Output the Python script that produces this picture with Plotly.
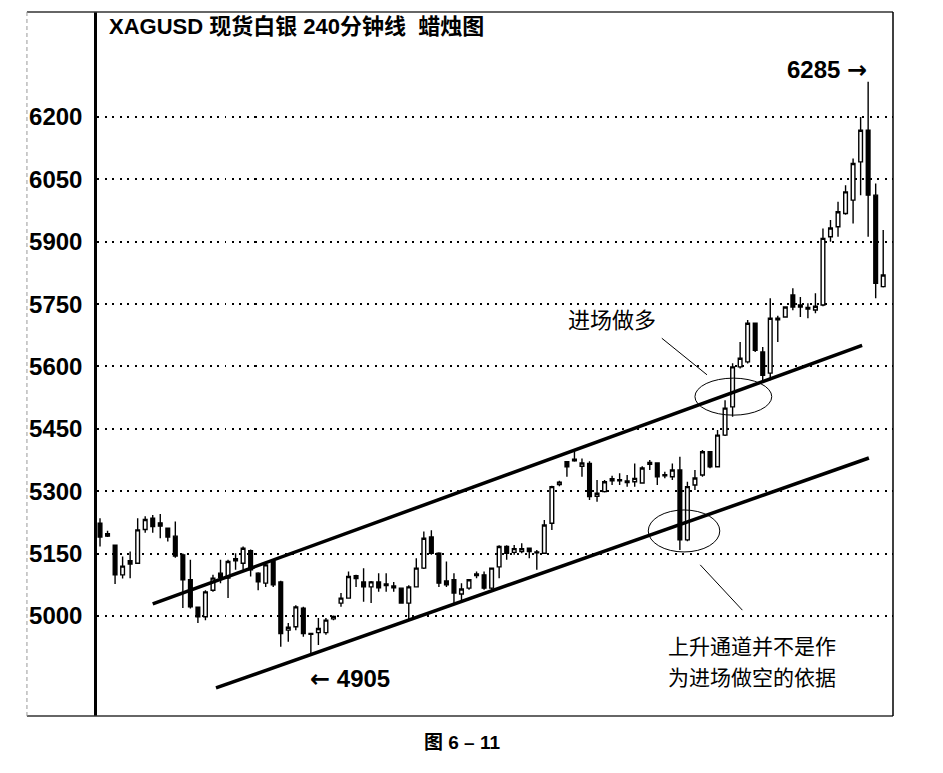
import plotly.graph_objects as go

# 240 min candles, XAGUSD
opens = [5223, 5198, 5170, 5099, 5133, 5127, 5208, 5235, 5224, 5211,
         5192, 5147, 5087, 5021, 4998, 5062, 5103, 5091, 5133, 5127,
         5157, 5103, 5079, 5131, 5082, 4966, 4974, 5019, 4958, 4960,
         4960, 4993, 5031, 5043, 5097, 5082, 5070, 5082, 5077, 5072,
         5067, 5031, 5070, 5115, 5190, 5151, 5084, 5087, 5053, 5067,
         5097, 5099, 5067, 5118, 5167, 5153, 5155, 5163, 5154, 5151,
         5223, 5316, 5371, 5373, 5360, 5367, 5288, 5299, 5325, 5325,
         5321, 5323, 5320, 5365, 5368, 5340, 5335, 5351, 5183, 5315,
         5339, 5395, 5359, 5435, 5503, 5599, 5611, 5704, 5635, 5584,
         5712, 5719, 5772, 5748, 5738, 5736, 5748, 5912, 5936, 5968,
         6000, 6092, 6168, 6012, 5792]
highs = [5235, 5205, 5172, 5143, 5155, 5235, 5240, 5243, 5245, 5213,
         5227, 5150, 5135, 5022, 5062, 5099, 5135, 5135, 5151, 5167,
         5160, 5105, 5127, 5135, 5085, 4983, 5026, 5022, 4960, 4995,
         4995, 5001, 5055, 5107, 5099, 5115, 5084, 5103, 5103, 5082,
         5068, 5074, 5139, 5203, 5206, 5153, 5131, 5103, 5079, 5087,
         5107, 5107, 5115, 5170, 5170, 5171, 5175, 5165, 5159, 5231,
         5313, 5325, 5373, 5399, 5379, 5372, 5327, 5327, 5337, 5343,
         5339, 5367, 5360, 5375, 5370, 5347, 5367, 5383, 5323, 5351,
         5399, 5397, 5447, 5519, 5608, 5659, 5712, 5706, 5647, 5764,
         5722, 5745, 5788, 5767, 5752, 5776, 5932, 5952, 5996, 6036,
         6100, 6200, 6285, 6040, 5928]
lows = [5167, 5190, 5077, 5090, 5091, 5127, 5200, 5200, 5187, 5179,
        5140, 5019, 5018, 4983, 4990, 5058, 5079, 5043, 5111, 5111,
        5095, 5062, 5070, 5070, 4926, 4938, 4966, 4950, 4905, 4930,
        4955, 4990, 5022, 5043, 5070, 5034, 5031, 5058, 5058, 5058,
        5030, 4990, 5070, 5113, 5147, 5070, 5070, 5031, 5034, 5063,
        5091, 5063, 5063, 5091, 5135, 5147, 5151, 5139, 5111, 5149,
        5207, 5312, 5335, 5371, 5335, 5279, 5275, 5297, 5315, 5315,
        5311, 5311, 5318, 5351, 5315, 5331, 5327, 5159, 5180, 5303,
        5335, 5355, 5357, 5433, 5479, 5595, 5607, 5635, 5567, 5567,
        5659, 5717, 5735, 5719, 5716, 5728, 5745, 5900, 5912, 5965,
        5944, 6012, 5912, 5764, 5790]
closes = [5190, 5192, 5099, 5120, 5125, 5207, 5232, 5215, 5216, 5190,
          5144, 5087, 5022, 4998, 5058, 5091, 5093, 5131, 5138, 5163,
          5111, 5082, 5123, 5075, 4958, 4973, 5022, 4958, 4956, 4970,
          4990, 4999, 5043, 5095, 5090, 5070, 5082, 5068, 5073, 5068,
          5031, 5070, 5115, 5187, 5151, 5079, 5075, 5055, 5065, 5087,
          5101, 5067, 5115, 5167, 5151, 5162, 5162, 5155, 5152, 5219,
          5311, 5322, 5359, 5377, 5368, 5287, 5295, 5323, 5330, 5328,
          5325, 5331, 5356, 5369, 5335, 5337, 5351, 5183, 5311, 5332,
          5395, 5359, 5435, 5500, 5599, 5620, 5704, 5639, 5579, 5716,
          5716, 5743, 5743, 5743, 5742, 5745, 5908, 5933, 5972, 6020,
          6088, 6168, 6012, 5800, 5820]
bars = list(range(len(opens)))

price_ticks = [5000, 5150, 5300, 5450, 5600, 5750, 5900, 6050, 6200]

# channel lines: [bar, price] at both ends
upper_channel = [[7.0, 5029], [101.2, 5651]]
lower_channel = [[15.4, 4827], [102.1, 5380]]

fig = go.Figure()

fig.add_trace(go.Candlestick(
    x=bars, open=opens, high=highs, low=lows, close=closes,
    increasing=dict(line=dict(color='black', width=1.4), fillcolor='white'),
    decreasing=dict(line=dict(color='black', width=1.4), fillcolor='black'),
    whiskerwidth=0, showlegend=False, hoverinfo='skip'))

for ch in (upper_channel, lower_channel):
    fig.add_shape(type='line', x0=ch[0][0], y0=ch[0][1], x1=ch[1][0], y1=ch[1][1],
                  line=dict(color='black', width=3.5), layer='above')

# ellipses and pointer lines
fig.add_shape(type='circle', x0=79.0, x1=89.2, y0=5483, y1=5572,
              line=dict(color='black', width=1), layer='above')
fig.add_shape(type='circle', x0=72.8, x1=82.3, y0=5154, y1=5255,
              line=dict(color='black', width=1), layer='above')
fig.add_shape(type='line', x0=74.6, y0=5668, x1=80.6, y1=5580,
              line=dict(color='black', width=1))
fig.add_shape(type='line', x0=79.7, y0=5123, x1=85.3, y1=5014,
              line=dict(color='black', width=1))

# frame around the whole chart
fig.add_shape(type='line', xref='paper', yref='paper', x0=-0.088, x1=1, y0=1, y1=1,
              line=dict(color='#333', width=1.5))
fig.add_shape(type='line', xref='paper', yref='paper', x0=-0.088, x1=1, y0=0, y1=0,
              line=dict(color='#333', width=1.5))
fig.add_shape(type='line', xref='paper', yref='paper', x0=1, x1=1, y0=0, y1=1,
              line=dict(color='black', width=1.5))
fig.add_shape(type='line', xref='paper', yref='paper', x0=-0.088, x1=-0.088, y0=0, y1=1,
              line=dict(color='#999', width=1, dash='4px,3px'))

cjk = 'Liberation Sans, Noto Sans CJK SC'
arrow = '<span style="font-family:DejaVu Sans">%s</span>'
fig.add_annotation(xref='paper', yref='paper', x=0.012, y=0.979, xanchor='left', yanchor='middle',
                   text='<b>XAGUSD 现货白银 240分钟线  蜡烛图</b>', showarrow=False,
                   font=dict(family=cjk, size=22, color='black'))
fig.add_annotation(x=91.0, y=6313, xanchor='left', yanchor='middle',
                   text='<b>6285 ' + arrow % '→' + '</b>',
                   showarrow=False, font=dict(family=cjk, size=24, color='black'))
fig.add_annotation(x=27.6, y=4848, xanchor='left', yanchor='middle',
                   text='<b>' + arrow % '←' + ' 4905</b>',
                   showarrow=False, font=dict(family=cjk, size=24, color='black'))
fig.add_annotation(x=68.0, y=5717, text='进场做多', showarrow=False,
                   font=dict(family='Noto Sans CJK SC', size=22, color='black'))
fig.add_annotation(x=86.6, y=4931, text='上升通道并不是作', showarrow=False, borderpad=0,
                   font=dict(family='Noto Sans CJK SC', size=21, color='black'))
fig.add_annotation(x=86.6, y=4855, text='为进场做空的依据', showarrow=False, borderpad=0,
                   font=dict(family='Noto Sans CJK SC', size=21, color='black'))
fig.add_annotation(xref='paper', yref='paper', x=0.458, y=-0.055, text='<b>图 6 – 11</b>',
                   showarrow=False, font=dict(family=cjk, size=19, color='black'))

fig.update_xaxes(range=[-0.4, 105.3], showticklabels=False, showgrid=False, zeroline=False,
                 rangeslider=dict(visible=False), showline=False)
fig.update_yaxes(range=[4759.5, 6452.5], tickvals=price_ticks, ticktext=[str(v) for v in price_ticks],
                 showgrid=True, gridcolor='black', gridwidth=2, griddash='2px,5.5px',
                 zeroline=False, showline=True, linecolor='black', linewidth=2.5,
                 ticks='', ticklabelstandoff=7,
                 tickfont=dict(family='Liberation Sans', size=24, color='black', weight='bold'))

# page body adds an 8px offset, so the figure is 8px smaller than the window
fig.update_layout(width=935, height=765, margin=dict(l=89, r=50, t=4, b=57),
                  paper_bgcolor='white', plot_bgcolor='white', showlegend=False)

fig.write_html("out.html")
